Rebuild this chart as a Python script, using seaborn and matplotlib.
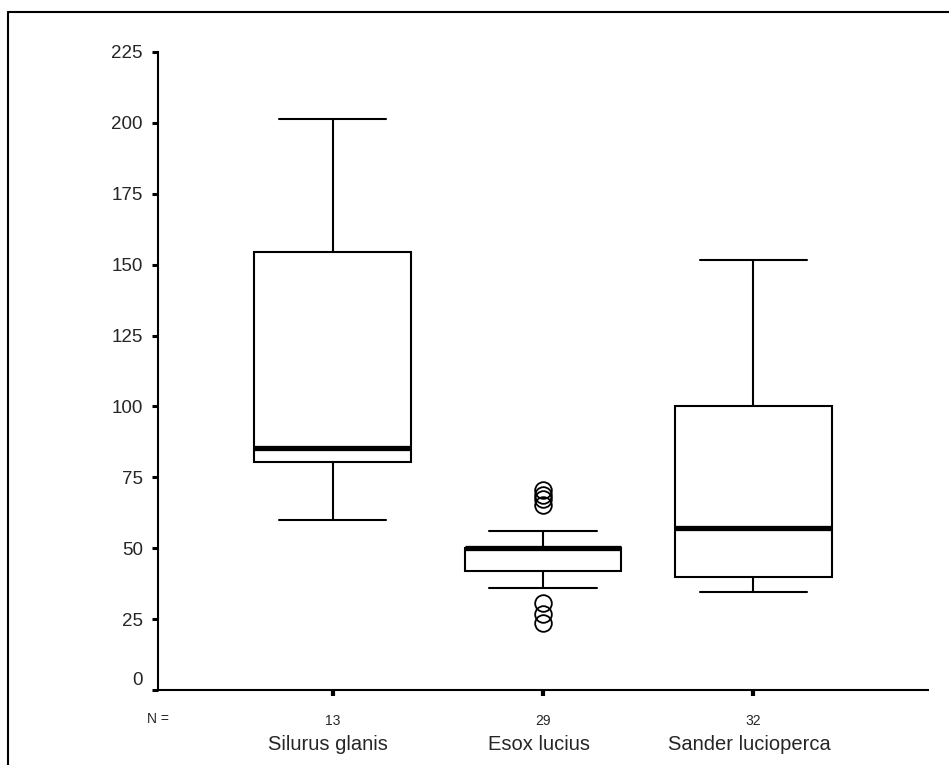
import pandas as pd
import matplotlib.pyplot as plt
import matplotlib.transforms as mtransforms
from matplotlib.lines import Line2D
import seaborn as sns

# 값
species = ['Silurus glanis', 'Esox lucius', 'Sander lucioperca']
silurus = [59.8, 66.0, 74.5, 80.3, 82.0, 84.0, 85.2, 98.0, 121.0, 154.4, 168.0, 183.0, 201.3]
esox = [23.8, 26.9, 30.6, 35.8, 38.0, 40.0, 41.0, 42.1, 44.0, 45.5, 47.0, 48.0, 49.0, 49.5,
        50.0, 50.0, 50.0, 50.0, 50.0, 50.1, 50.1, 50.1, 52.0, 54.0, 56.1,
        65.2, 67.2, 68.6, 70.7]
sander = [34.5, 36.0, 37.0, 38.0, 38.5, 39.0, 39.5, 40.0, 40.0, 42.0, 45.0, 48.0, 50.0, 53.0,
          55.0, 57.0, 57.0, 62.0, 68.0, 74.0, 80.0, 88.0, 95.0, 100.3, 100.3, 108.0,
          115.0, 122.0, 130.0, 138.0, 145.0, 151.6]
y_ticks = [0, 25, 50, 75, 100, 125, 150, 175, 200, 225]

groups = [silurus, esox, sander]
df = pd.DataFrame({
    'species': [s for s, g in zip(species, groups) for _ in g],
    'value': [v for g in groups for v in g],
})

sns.set_style('ticks')
plt.rcParams['font.family'] = ['Liberation Sans', 'DejaVu Sans']

fig = plt.figure(figsize=(9.49, 7.65), dpi=100)
ax = fig.add_axes([158 / 949, 1 - 690 / 765, (928 - 158) / 949, (690 - 52) / 765])

sns.boxplot(data=df, x='species', y='value', order=species, ax=ax,
            width=0.745, whis=1.4, color='white', linecolor='black',
            linewidth=1.5, fliersize=12, capwidths=0.51,
            medianprops=dict(color='black', linewidth=3.8),
            flierprops=dict(marker='o', markerfacecolor='none',
                            markeredgecolor='black', markeredgewidth=1.3))

ax.set_xlim(-0.83, 2.83)
ax.set_ylim(0, 225)
ax.set_yticks(y_ticks)
ax.set_xticks(range(len(species)))
ax.set_xticklabels([str(len(g)) for g in groups])
ax.set_xlabel('')
ax.set_ylabel('')

sns.despine(ax=ax)
for side in ['left', 'bottom']:
    ax.spines[side].set_linewidth(1.5)
    ax.spines[side].set_color('black')

ax.tick_params(axis='y', length=4, width=2.2, pad=7, labelsize=13.5, color='black')
ax.tick_params(axis='x', length=4, width=3, pad=13, labelsize=10, color='black')

# 0 라벨은 살짝 위로
lab0 = ax.get_yticklabels()[0]
lab0.set_transform(lab0.get_transform() + mtransforms.ScaledTranslation(0, 8 / 72, fig.dpi_scale_trans))

trans = mtransforms.blended_transform_factory(ax.transAxes, ax.transAxes)
ax.text(0, -0.045, 'N =', transform=trans, ha='center', va='center', fontsize=10)
trans2 = mtransforms.blended_transform_factory(ax.transData, ax.transAxes)
for i, name in enumerate(species):
    ax.text(i - 0.02, -0.085, name, transform=trans2, ha='center', va='center', fontsize=14.5)

# 바깥 테두리
fig.add_artist(Line2D([8 / 949, 8 / 949], [0, 1 - 12 / 765], transform=fig.transFigure, color='black', lw=1.5))
fig.add_artist(Line2D([8 / 949, 1], [1 - 12 / 765, 1 - 12 / 765], transform=fig.transFigure, color='black', lw=1.5))

plt.savefig('out.png', dpi=100)
